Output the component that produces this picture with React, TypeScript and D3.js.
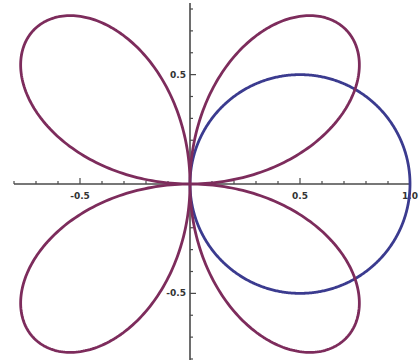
import React from "react";
import * as d3 from "d3";

// Polar curves r(θ): four-leaf rose r = sin(2θ) and circle r = cos(θ)
const curveNames = ["rose", "circle"];
const curveColors = ["#7d2c5c", "#3b3b8f"];
const curveFns: ((t: number) => number)[] = [
  (t) => Math.sin(2 * t),
  (t) => Math.cos(t),
];
const curveRanges: [number, number][] = [
  [0, 2 * Math.PI],
  [0, Math.PI],
];

// Axis ticks
const xMajorTicks = [-0.5, 0.5, 1.0];
const xMajorLabels = ["-0.5", "0.5", "1.0"];
const yMajorTicks = [0.5, -0.5];
const yMajorLabels = ["0.5", "-0.5"];
const xMinorTicks = [-0.8, -0.7, -0.6, -0.4, -0.3, -0.2, -0.1, 0.1, 0.2, 0.3, 0.4, 0.6, 0.7, 0.8, 0.9];
const yMinorTicks = [0.8, 0.7, 0.6, 0.4, 0.3, 0.2, 0.1, -0.1, -0.2, -0.3, -0.4, -0.6, -0.7, -0.8];

const W = 419;
const H = 362;

export default function App() {
  const x = d3.scaleLinear().domain([-0.8, 1.0]).range([14, 410]);
  const y = d3.scaleLinear().domain([-0.8, 0.8]).range([359, 9]);
  const x0 = x(0);
  const y0 = y(0);

  const line = d3
    .line<[number, number]>()
    .x((d) => x(d[0]))
    .y((d) => y(d[1]))
    .curve(d3.curveLinear);

  const paths = curveFns.map((f, i) => {
    const [a, b] = curveRanges[i];
    const n = 720;
    const pts: [number, number][] = d3.range(n + 1).map((k) => {
      const t = a + ((b - a) * k) / n;
      const r = f(t);
      return [r * Math.cos(t), r * Math.sin(t)];
    });
    return line(pts) || "";
  });

  const axisColor = "#4a4a4a";
  const labelStyle: React.CSSProperties = {
    fontFamily: "DejaVu Sans, sans-serif",
    fontSize: 9,
    fontWeight: "bold",
    fill: "#333",
  };

  return (
    <svg
      width={W}
      height={H}
      style={{ position: "absolute", left: 0, top: 0, background: "#fff" }}
    >
      <rect width={W} height={H} fill="#fff" />
      {/* axes */}
      <line x1={x(-0.8)} x2={x(1.0)} y1={y0} y2={y0} stroke={axisColor} strokeWidth={1.6} />
      <line x1={x0} x2={x0} y1={3} y2={360} stroke={axisColor} strokeWidth={1.6} />
      {xMinorTicks.map((v) => (
        <line key={"xm" + v} x1={x(v)} x2={x(v)} y1={y0} y2={y0 - 3} stroke={axisColor} strokeWidth={1.2} />
      ))}
      {xMajorTicks.map((v) => (
        <line key={"xM" + v} x1={x(v)} x2={x(v)} y1={y0} y2={y0 - 6} stroke={axisColor} strokeWidth={1.2} />
      ))}
      {yMinorTicks.map((v) => (
        <line key={"ym" + v} x1={x0} x2={x0 + 3} y1={y(v)} y2={y(v)} stroke={axisColor} strokeWidth={1.2} />
      ))}
      {yMajorTicks.map((v) => (
        <line key={"yM" + v} x1={x0} x2={x0 + 6} y1={y(v)} y2={y(v)} stroke={axisColor} strokeWidth={1.2} />
      ))}
      {xMajorTicks.map((v, i) => (
        <text key={"xl" + v} x={x(v)} y={y0 + 15} textAnchor="middle" style={labelStyle}>
          {xMajorLabels[i]}
        </text>
      ))}
      {yMajorTicks.map((v, i) => (
        <text key={"yl" + v} x={x0 - 4} y={y(v) + 3} textAnchor="end" style={labelStyle}>
          {yMajorLabels[i]}
        </text>
      ))}
      {/* curves: circle first, rose on top */}
      {[1, 0].map((i) => (
        <path
          key={curveNames[i]}
          d={paths[i]}
          fill="none"
          stroke={curveColors[i]}
          strokeWidth={2.8}
          strokeLinejoin="round"
        />
      ))}
    </svg>
  );
}
